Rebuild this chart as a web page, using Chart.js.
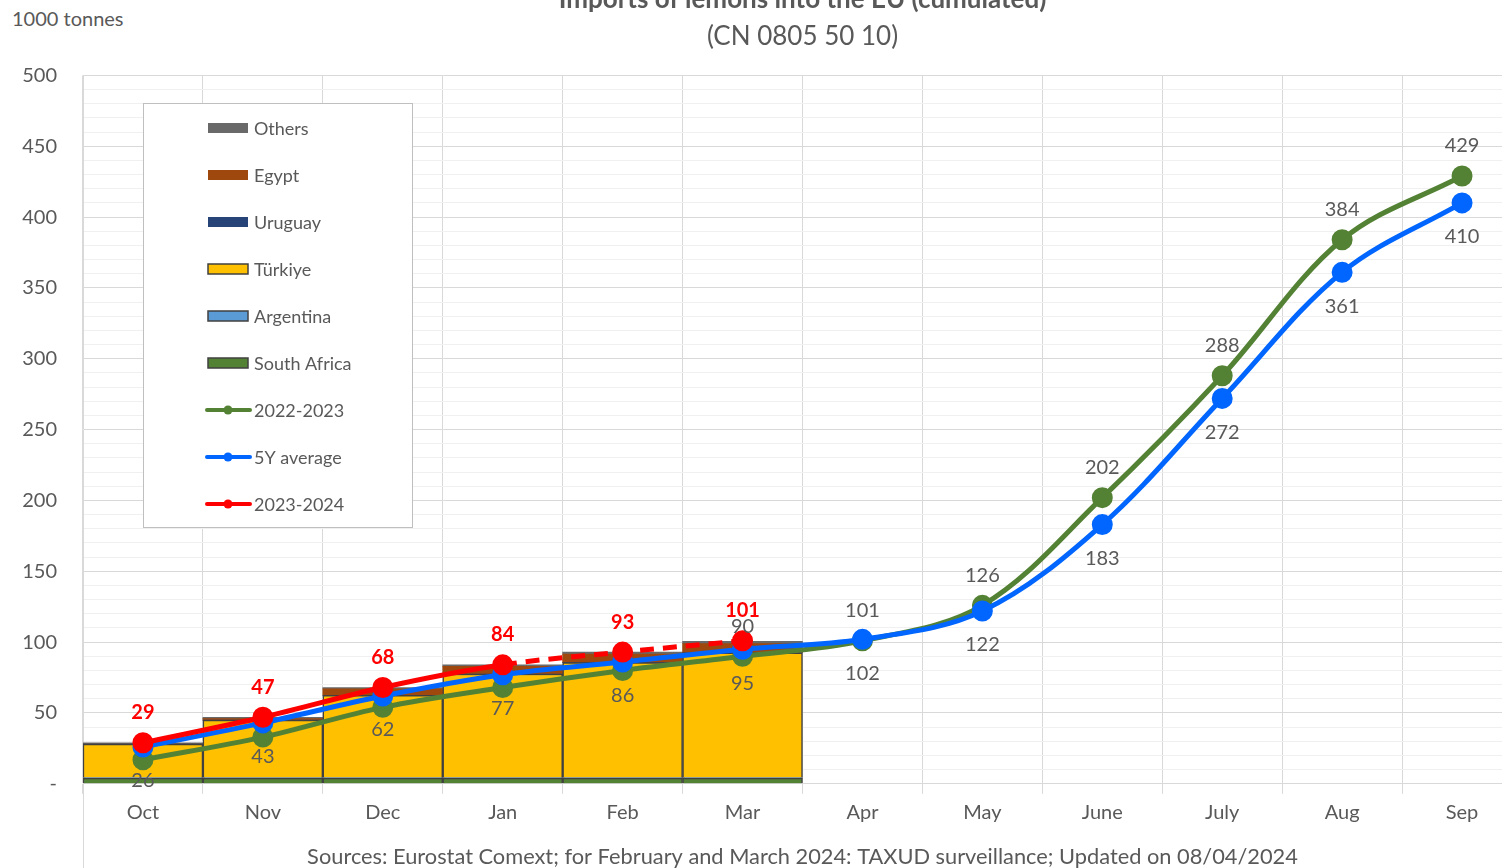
<!DOCTYPE html>
<html>
<head>
<meta charset="utf-8">
<script src="https://cdn.jsdelivr.net/npm/chart.js@4.4.1/dist/chart.umd.min.js"></script>
<style>
  body { margin: 0; background: #fff; overflow: hidden; width: 1502px; height: 868px; position: relative; }
  #grafico { position: absolute; left: 0; top: -16px; }
  #unit { position: absolute; left: 12px; top: 6px; font: 20px Lato, sans-serif; color: #595959; }
</style>
</head>
<body>
<div id="unit">1000 tonnes</div>
<canvas id="grafico" width="1535" height="886"></canvas>
<script>
// dados (1000 t)
const meses = ['Oct', 'Nov', 'Dec', 'Jan', 'Feb', 'Mar', 'Apr', 'May', 'June', 'July', 'Aug', 'Sep'];
const southAfrica = [4, 4, 4, 4, 4, 4];
const argentina = [0.5, 0.5, 0.5, 0.5, 0.5, 0.5];
const turkiye = [23.5, 40.5, 58, 73, 81, 88];
const uruguay = [0, 0, 0, 0, 0, 0];
const egypt = [0, 1, 4.5, 5.5, 6, 6.5];
const others = [1, 1, 1, 1, 1.5, 1.5];
const serie2022 = [17, 33, 54, 68, 80, 90, 101, 126, 202, 288, 384, 429];
const media5y = [26, 43, 62, 77, 86, 95, 102, 122, 183, 272, 361, 410];
const serie2023 = [29, 47, 68, 84, 93, 101];
const rotulo2022Inicio = 5; // labels of 2022-2023 only shown from Mar on
const yTicks = [0, 50, 100, 150, 200, 250, 300, 350, 400, 450, 500];

const corTexto = '#595959';
const fonte = 'Lato, sans-serif';

function barra(label, data, cor, borda) {
    return {
        type: 'bar', label: label, data: data, stack: 'paises', order: 4,
        backgroundColor: cor, borderColor: borda || cor, borderWidth: borda ? 1.5 : 0,
        barPercentage: 1, categoryPercentage: 1
    };
}

function linha(label, data, cor, stack, order, extra) {
    return Object.assign({
        type: 'line', label: label, data: data, stack: stack, order: order,
        borderColor: cor, backgroundColor: cor, pointBackgroundColor: cor, pointBorderColor: cor,
        borderWidth: 5, pointRadius: 8, pointHoverRadius: 8, tension: 0.35, fill: false
    }, extra || {});
}

const datasets = [
    barra('South Africa', southAfrica, '#548235', '#404040'),
    barra('Argentina', argentina, '#5B9BD5', '#404040'),
    barra('Türkiye', turkiye, '#FFC000', '#404040'),
    barra('Uruguay', uruguay, '#264478'),
    barra('Egypt', egypt, '#9E480E'),
    barra('Others', others, '#696969'),
    linha('2022-2023', serie2022, '#548235', 'l1', 3, { rotulo: { pos: 'acima', desde: rotulo2022Inicio } }),
    linha('5Y average', media5y, '#0066FF', 'l2', 2, { rotulo: { pos: 'abaixo', desde: 0 } }),
    linha('2023-2024', serie2023, '#FF0000', 'l3', 1, {
        rotulo: { pos: 'acima', desde: 0, cor: '#FF0000', negrito: true },
        segment: { borderDash: ctx => ctx.p0DataIndex >= 3 ? [14, 9] : undefined }
    })
];

// rótulos dos pontos
const pluginRotulos = {
    id: 'rotulos',
    afterDatasetsDraw(chart) {
        const ctx = chart.ctx;
        ctx.save();
        ctx.textAlign = 'center';
        ctx.textBaseline = 'middle';
        chart.data.datasets.forEach((ds, i) => {
            if (!ds.rotulo) return;
            const meta = chart.getDatasetMeta(i);
            ctx.font = (ds.rotulo.negrito ? 'bold ' : '') + '20px ' + fonte;
            ctx.fillStyle = ds.rotulo.cor || corTexto;
            meta.data.forEach((pt, j) => {
                if (j < ds.rotulo.desde || ds.data[j] == null) return;
                const dy = ds.rotulo.pos === 'acima' ? -30 : 34;
                ctx.fillText(String(ds.data[j]), pt.x, pt.y + dy);
            });
        });
        ctx.restore();
    }
};

// legenda desenhada dentro do gráfico
const ordemLegenda = ['Others', 'Egypt', 'Uruguay', 'Türkiye', 'Argentina', 'South Africa', '2022-2023', '5Y average', '2023-2024'];
const pluginLegenda = {
    id: 'legendaCaixa',
    afterDatasetsDraw(chart) {
        const ctx = chart.ctx;
        const x0 = 143, y0 = 119, w = 269, h = 424;
        ctx.save();
        ctx.fillStyle = '#fff';
        ctx.fillRect(x0, y0, w, h);
        ctx.strokeStyle = '#bfbfbf';
        ctx.lineWidth = 1;
        ctx.strokeRect(x0 + 0.5, y0 + 0.5, w, h);
        ctx.font = '18px ' + fonte;
        ctx.textBaseline = 'middle';
        ordemLegenda.forEach((nome, k) => {
            const ds = chart.data.datasets.find(d => d.label === nome);
            const cy = y0 + 25 + k * 47;
            if (ds.type === 'bar') {
                ctx.fillStyle = ds.backgroundColor;
                ctx.fillRect(208, cy - 5, 40, 10);
                if (ds.borderWidth) {
                    ctx.strokeStyle = ds.borderColor;
                    ctx.lineWidth = 1.5;
                    ctx.strokeRect(208, cy - 5, 40, 10);
                }
            } else {
                ctx.strokeStyle = ds.borderColor;
                ctx.lineWidth = 4;
                ctx.lineCap = 'round';
                ctx.beginPath();
                ctx.moveTo(207, cy);
                ctx.lineTo(250, cy);
                ctx.stroke();
                ctx.fillStyle = ds.borderColor;
                ctx.beginPath();
                ctx.arc(228, cy, 4.5, 0, Math.PI * 2);
                ctx.fill();
            }
            ctx.fillStyle = corTexto;
            ctx.fillText(nome, 254, cy + 1);
        });
        ctx.restore();
    }
};

// linha vertical à esquerda que desce até o rodapé
const pluginBorda = {
    id: 'bordaEsq',
    afterDraw(chart) {
        const ctx = chart.ctx;
        const x = Math.round(chart.chartArea.left) + 0.5;
        ctx.save();
        ctx.strokeStyle = '#d9d9d9';
        ctx.lineWidth = 1;
        ctx.beginPath();
        ctx.moveTo(x, chart.chartArea.bottom);
        ctx.lineTo(x, chart.height);
        ctx.stroke();
        ctx.restore();
    }
};

new Chart(document.getElementById('grafico'), {
    type: 'bar',
    data: { labels: meses, datasets: datasets },
    plugins: [pluginRotulos, pluginLegenda, pluginBorda],
    options: {
        responsive: false,
        animation: false,
        layout: { padding: 0 },
        plugins: {
            legend: { display: false },
            tooltip: { enabled: false },
            title: {
                display: true, fullSize: false,
                text: 'Imports of lemons into the EU (cumulated)',
                color: corTexto, font: { family: fonte, size: 26, weight: 'bold' },
                padding: { top: 0, bottom: 6 }
            },
            subtitle: {
                display: true, fullSize: false,
                text: '(CN 0805 50 10)',
                color: corTexto, font: { family: fonte, size: 26 },
                padding: { top: 0, bottom: 23 }
            }
        },
        scales: {
            x: {
                stacked: true,
                grid: { offset: true, color: '#d9d9d9', tickLength: 10, tickColor: '#d9d9d9' },
                border: { color: '#d9d9d9' },
                ticks: { color: corTexto, font: { family: fonte, size: 20 }, padding: 7 },
                title: {
                    display: true,
                    text: 'Sources: Eurostat Comext; for February and March 2024: TAXUD surveillance; Updated on 08/04/2024',
                    color: corTexto, font: { family: fonte, size: 21.8 }, padding: { top: 12, bottom: 0 }
                }
            },
            y: {
                stacked: true,
                min: 0, max: 500,
                afterBuildTicks(axis) {
                    const t = [];
                    for (let v = 0; v <= 500; v += 10) t.push({ value: v });
                    axis.ticks = t;
                },
                afterFit(axis) { axis.width = 83; },
                grid: {
                    drawTicks: false,
                    color: c => (c.tick && c.tick.value % 50 === 0) ? '#d9d9d9' : '#f0f0f0'
                },
                border: { color: '#d9d9d9' },
                ticks: {
                    autoSkip: false,
                    color: corTexto, font: { family: fonte, size: 20 }, padding: 26,
                    callback: v => v === 0 ? '-' : (yTicks.includes(v) ? v : '')
                }
            }
        }
    }
});
</script>
</body>
</html>
